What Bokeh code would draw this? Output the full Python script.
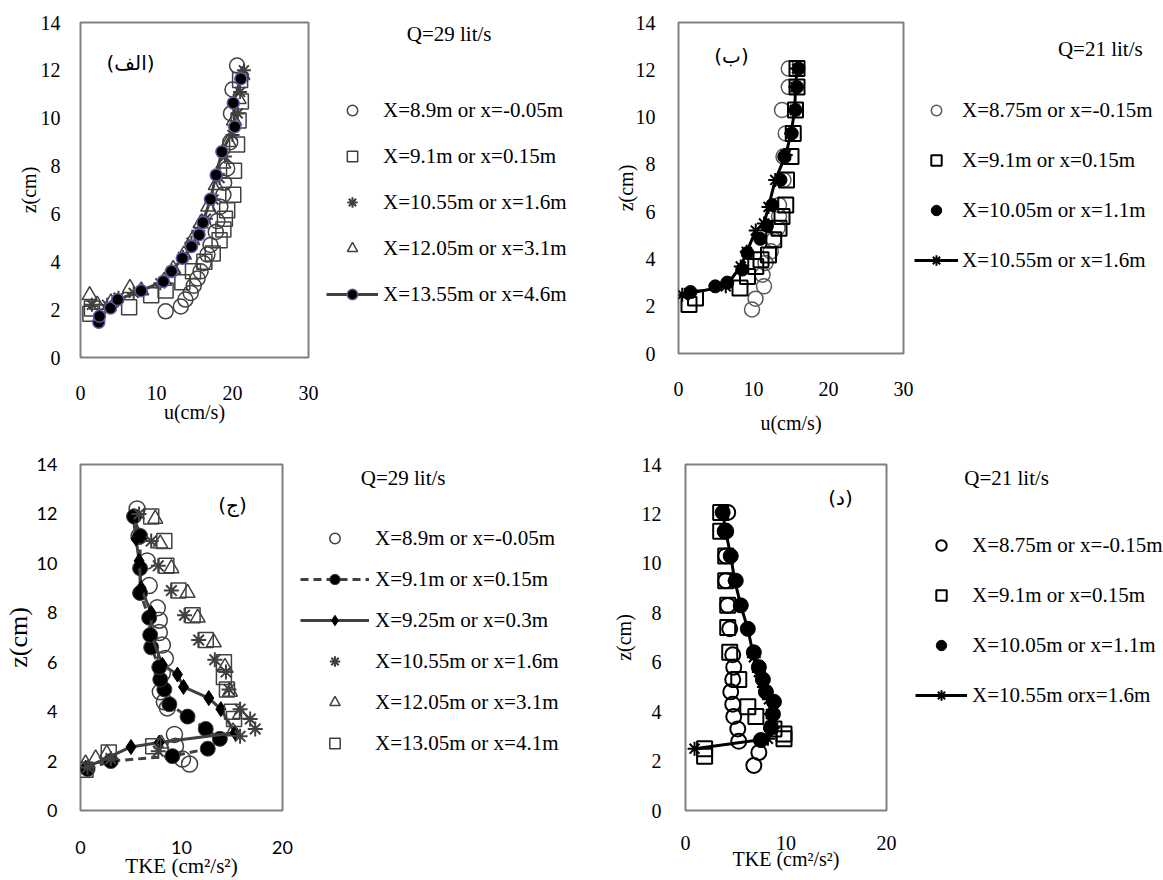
from bokeh.plotting import figure
from bokeh.models import Range1d, FixedTicker, Legend, LegendItem, Label
from bokeh.layouts import column, row
from bokeh.embed import file_html
from bokeh.resources import INLINE

SERIF = "Liberation Serif"

# ---------------- data ----------------
# Panel (الف): u profiles, Q = 29 lit/s
a_title = "Q=29 lit/s"
a_labels = ["X=8.9m or x=-0.05m", "X=9.1m or x=0.15m", "X=10.55m or x=1.6m",
            "X=12.05m or x=3.1m", "X=13.55m or x=4.6m"]
a1_u = [11.2, 13.2, 13.8, 14.5, 14.9, 15.4, 15.8, 16.2, 16.7, 17.1, 17.8, 18.0, 18.4, 18.8, 18.9, 19.3, 19.7, 19.8, 20.0, 20.6]
a1_z = [1.93, 2.13, 2.42, 2.7, 3.0, 3.3, 3.6, 3.94, 4.3, 4.7, 5.25, 5.7, 6.3, 6.8, 7.3, 7.9, 9.0, 10.2, 11.2, 12.2]
a2_u = [1.3, 1.5, 6.4, 9.3, 11.2, 13.4, 14.8, 16.3, 17.4, 18.3, 18.8, 19.0, 19.3, 20.1, 20.2, 20.6, 20.8, 21.1, 21.0]
a2_z = [1.83, 2.05, 2.1, 2.6, 2.8, 3.15, 3.6, 4.0, 4.35, 4.9, 5.35, 5.8, 6.15, 6.8, 7.8, 8.9, 9.9, 10.7, 11.6]
a3_u = [1.5, 3.5, 5.0, 7.0, 10.5, 12.0, 13.5, 14.6, 15.5, 16.5, 17.5, 18.3, 19.0, 20.0, 20.7, 21.0, 21.5]
a3_z = [2.2, 2.2, 2.5, 2.7, 3.1, 3.6, 4.2, 4.8, 5.3, 5.8, 6.6, 7.5, 8.4, 9.3, 10.2, 11.1, 12.0]
a4_u = [1.2, 2.2, 4.0, 6.5, 8.0, 11.0, 12.2, 13.6, 14.7, 15.8, 16.8, 17.8, 18.8, 19.5, 20.2, 20.8, 21.3]
a4_z = [2.6, 2.2, 2.3, 2.9, 2.8, 3.2, 3.7, 4.3, 4.9, 5.6, 6.3, 7.2, 8.1, 9.0, 9.9, 10.8, 11.8]
a5_u = [2.4, 2.5, 3.95, 4.9, 7.98, 10.9, 11.97, 13.4, 14.6, 15.6, 16.1, 17.1, 17.85, 18.6, 20.3, 20.1, 21.1]
a5_z = [1.47, 1.72, 2.07, 2.42, 2.79, 3.18, 3.6, 4.15, 4.64, 5.13, 5.64, 6.61, 7.63, 8.6, 9.64, 10.64, 11.65]

# Panel (ب): u profiles, Q = 21 lit/s
b_title = "Q=21 lit/s"
b_labels = ["X=8.75m or x=-0.15m", "X=9.1m or x=0.15m", "X=10.05m or x=1.1m", "X=10.55m or x=1.6m"]
b1_u = [9.8, 10.27, 11.4, 11.2, 11.6, 12.3, 12.7, 13.2, 13.4, 13.4, 14.0, 14.0, 14.3, 13.8, 14.7, 14.7]
b1_z = [1.86, 2.32, 2.84, 3.33, 3.83, 4.32, 4.81, 5.3, 5.79, 6.28, 7.34, 8.33, 9.31, 10.3, 11.27, 12.05]
b2_u = [1.4, 2.27, 8.2, 9.2, 10.3, 11.0, 12.0, 12.7, 13.4, 13.8, 14.3, 14.4, 15.0, 15.3, 15.6, 15.8, 15.8]
b2_z = [2.07, 2.35, 2.77, 3.26, 3.68, 3.97, 4.17, 4.81, 5.3, 5.79, 6.28, 7.34, 8.33, 9.31, 10.3, 11.27, 12.05]
b3_u = [1.6, 4.9, 6.5, 8.5, 9.2, 10.9, 11.8, 12.5, 13.6, 14.1, 15.1, 15.6, 15.8, 16.0]
b3_z = [2.6, 2.84, 3.0, 3.55, 4.25, 4.85, 5.4, 6.28, 7.34, 8.33, 9.31, 10.3, 11.27, 12.05]
b4_u = [0.5, 1.4, 6.3, 8.3, 9.1, 10.3, 11.4, 12.0, 12.9, 14.3, 15.0, 15.5, 15.6, 15.8]
b4_z = [2.49, 2.55, 2.84, 3.68, 4.3, 5.2, 5.5, 6.2, 7.34, 8.4, 9.31, 10.3, 11.27, 12.05]

# Panel (ج): TKE profiles, Q = 29 lit/s
c_title = "Q=29 lit/s"
c_labels = ["X=8.9m or x=-0.05m", "X=9.1m or x=0.15m", "X=9.25m or x=0.3m",
            "X=10.55m or x=1.6m", "X=12.05m or x=3.1m", "X=13.05m or x=4.1m"]
c1_k = [5.6, 5.8, 6.6, 6.8, 7.6, 7.8, 7.8, 8.1, 8.4, 8.1, 7.9, 8.3, 8.6, 9.3, 9.4, 10.1, 10.8]
c1_z = [12.2, 11.1, 10.1, 9.1, 8.2, 7.7, 7.2, 6.7, 6.15, 5.55, 4.8, 4.4, 4.15, 3.08, 2.6, 2.08, 1.88]
c2_k = [0.7, 3.0, 9.1, 12.6, 13.8, 12.4, 10.6, 8.8, 8.3, 7.9, 7.8, 7.0, 6.9, 6.8, 5.9, 5.9, 5.9, 5.3]
c2_z = [1.68, 2.0, 2.2, 2.5, 2.9, 3.3, 3.8, 4.3, 4.9, 5.3, 5.8, 6.6, 7.1, 7.8, 8.8, 9.8, 11.1, 11.9]
c3_k = [0.5, 5.0, 7.8, 15.3, 13.9, 12.7, 10.2, 9.6, 8.1, 7.0, 7.0, 6.0, 5.8, 5.5, 5.2]
c3_z = [1.73, 2.57, 2.75, 3.15, 4.1, 4.55, 5.0, 5.5, 5.9, 7.1, 8.0, 9.0, 10.1, 11.0, 11.9]
c4_k = [0.7, 3.0, 7.7, 15.8, 17.3, 16.8, 15.8, 14.7, 14.4, 13.3, 11.7, 10.3, 9.0, 7.7, 7.0, 5.8]
c4_z = [1.75, 2.1, 2.4, 3.0, 3.3, 3.7, 4.1, 4.9, 5.6, 6.1, 6.9, 7.9, 8.9, 9.9, 10.9, 12.0]
c5_k = [0.5, 1.5, 2.6, 8.0, 15.1, 15.8, 14.8, 14.3, 13.2, 11.6, 10.6, 9.0, 7.9, 7.4]
c5_z = [1.9, 2.1, 2.3, 2.7, 3.2, 3.9, 4.8, 5.8, 6.8, 7.8, 8.8, 9.8, 10.8, 11.8]
c6_k = [0.5, 2.8, 7.2, 15.2, 15.0, 14.5, 14.2, 14.2, 12.4, 11.1, 9.7, 8.5, 8.3, 7.0]
c6_z = [1.65, 2.35, 2.6, 3.7, 4.0, 4.9, 5.4, 6.0, 6.9, 7.9, 8.9, 9.9, 10.9, 11.9]

# Panel (د): TKE profiles, Q = 21 lit/s
d_title = "Q=21 lit/s"
d_labels = ["X=8.75m or x=-0.15m", "X=9.1m or x=0.15m", "X=10.05m or x=1.1m", "X=10.55m orx=1.6m"]
d1_k = [4.2, 4.0, 4.0, 4.0, 4.2, 4.4, 4.7, 4.8, 4.7, 4.5, 4.7, 4.8, 5.2, 5.3, 7.3, 6.8]
d1_z = [12.06, 11.3, 10.3, 9.3, 8.3, 7.35, 6.3, 5.8, 5.3, 4.8, 4.3, 3.8, 3.3, 2.8, 2.35, 1.82]
d2_k = [1.9, 1.9, 9.8, 9.8, 8.8, 7.0, 6.2, 5.3, 4.4, 4.2, 4.2, 4.0, 4.0, 3.5, 3.5]
d2_z = [2.2, 2.5, 2.9, 3.1, 3.3, 3.8, 4.2, 5.3, 6.4, 7.4, 8.3, 9.3, 10.3, 11.3, 12.06]
d3_k = [3.7, 3.9, 4.5, 5.0, 5.5, 6.2, 6.8, 7.3, 7.7, 8.0, 8.8, 8.7, 8.5, 7.5]
d3_z = [12.06, 11.3, 10.3, 9.3, 8.3, 7.35, 6.4, 5.8, 5.3, 4.8, 4.4, 3.9, 3.35, 2.85]
d4_k = [0.9, 8.2, 8.7, 8.5, 8.3, 7.8, 7.3, 6.8, 6.2, 5.5, 4.9, 4.5, 4.0, 3.7]
d4_z = [2.5, 2.9, 3.35, 3.9, 4.5, 5.0, 5.6, 6.2, 7.35, 8.3, 9.3, 10.3, 11.3, 12.06]

z_ticks = [0, 2, 4, 6, 8, 10, 12, 14]
u_ticks = [0, 10, 20, 30]
k_ticks = [0, 10, 20]


def make_fig(left, fw, right, top, fh, total_h, xmax, xticks, tick_font, tick_size,
             xlabel, ylabel, ylabel_size, xlabel_size, xstand, ystand, xlab_stand, ylab_stand):
    p = figure(title=None, frame_width=fw, frame_height=fh,
               min_border_left=left, min_border_right=right,
               min_border_top=top, min_border_bottom=total_h - top - fh,
               x_range=Range1d(0, xmax), y_range=Range1d(0, 14),
               output_backend="svg", toolbar_location=None,
               background_fill_color="white", border_fill_color="white")
    p.xaxis.ticker = FixedTicker(ticks=xticks)
    p.yaxis.ticker = FixedTicker(ticks=z_ticks)
    p.grid.visible = False
    p.axis.major_label_text_font = tick_font
    for ax in list(p.xaxis) + list(p.yaxis):
        ax.axis_line_color = None
        ax.major_tick_line_color = None
        ax.minor_tick_line_color = None
        ax.major_tick_out = 0
        ax.major_tick_in = 0
        ax.major_label_text_font = tick_font
        ax.major_label_text_font_size = tick_size
        ax.major_label_text_color = "black"
        ax.axis_label_text_font = SERIF
        ax.axis_label_text_font_style = "normal"
        ax.axis_label_text_color = "black"
    p.xaxis.major_label_standoff = xstand
    p.yaxis.major_label_standoff = ystand
    p.xaxis.axis_label = xlabel
    p.yaxis.axis_label = ylabel
    p.xaxis.axis_label_text_font_size = xlabel_size
    p.yaxis.axis_label_text_font_size = ylabel_size
    p.xaxis.axis_label_standoff = xlab_stand
    p.yaxis.axis_label_standoff = ylab_stand
    p.outline_line_color = "#808080"
    p.outline_line_width = 2
    return p


def letter(p, x, y, text):
    p.add_layout(Label(x=x, y=y, x_units="screen", y_units="screen", text=text,
                       text_font="DejaVu Sans", text_font_size="20px", text_color="black",
                       text_align="center", text_baseline="middle"))


def blank(w, h):
    f = figure(title=None, width=w, height=h, x_range=Range1d(0, w), y_range=Range1d(0, h),
               min_border=0, x_axis_location=None, y_axis_location=None,
               outline_line_color=None, toolbar_location=None, output_backend="svg",
               background_fill_color="white", border_fill_color="white")
    f.grid.visible = False
    return f


def legend_col(w, h, qh, title, tx, ty, specs, labels, lleft, ltop, spacing, glyph_w, standoff, size="21px"):
    # text "Q=..." in an upper strip
    q = blank(w, qh)
    q.add_layout(Label(x=tx, y=ty, text=title, text_font=SERIF, text_font_size="21px",
                       text_color="black", text_align="left", text_baseline="middle"))
    # legend strip; its frame starts where the legend starts
    f = figure(title=None, width=w, height=h - qh, min_border_left=lleft, min_border_top=ltop,
               min_border_right=0, min_border_bottom=0,
               x_range=Range1d(0, 1), y_range=Range1d(0, 1),
               x_axis_location=None, y_axis_location=None,
               outline_line_color=None, toolbar_location=None, output_backend="svg",
               background_fill_color="white", border_fill_color="white")
    f.grid.visible = False
    items = []
    for spec, lab in zip(specs, labels):
        rs = []
        if spec.get("line"):
            rs.append(f.line([-10, -9], [-10, -10], **spec["line"]))
        if spec.get("marker"):
            rs.append(f.scatter([-10], [-10], **spec["marker"]))
        items.append(LegendItem(label=lab, renderers=rs))
    lg = Legend(items=items, location="top_left", orientation="vertical",
                glyph_width=glyph_w, glyph_height=26, label_height=26,
                spacing=spacing, padding=0, margin=0, label_standoff=standoff,
                label_text_font=SERIF, label_text_font_size=size, label_text_color="black",
                border_line_color=None, background_fill_alpha=0)
    f.add_layout(lg, "center")
    return column(q, f, spacing=0)


g1 = "#404040"
g2 = "#595959"

TOP_H = 444
BOT_H = 435

# ---------------- panel (الف) ----------------
sty_a = [
    dict(marker=dict(marker="circle", size=15, fill_color=None, line_color=g1, line_width=1.5)),
    dict(marker=dict(marker="square", size=15, fill_color=None, line_color=g1, line_width=1.5)),
    dict(marker=dict(marker="asterisk", size=14, line_color=g1, line_width=2)),
    dict(marker=dict(marker="triangle", size=15, fill_color=None, line_color=g1, line_width=1.5)),
    dict(line=dict(line_color=g1, line_width=3),
         marker=dict(marker="circle", size=12, fill_color="black", line_color="#6a55a0", line_width=1.5)),
]
p1 = make_fig(80, 228, 12, 22, 335, TOP_H, 30, u_ticks, SERIF, "20px",
              "u(cm/s)", "z(cm)", "20px", "20px", 28, 20, -2, -2)
for (xs, ys), st in zip([(a1_u, a1_z), (a2_u, a2_z), (a3_u, a3_z), (a4_u, a4_z), (a5_u, a5_z)], sty_a):
    if "line" in st:
        p1.line(xs, ys, **st["line"])
    p1.scatter(xs, ys, **st["marker"])
letter(p1, 50, 295, "(الف)")
leg1 = legend_col(280, TOP_H, 90, a_title, 82, 57, sty_a, a_labels, 6, 7, 20, 52, 5)

# ---------------- panel (ب) ----------------
sty_b = [
    dict(marker=dict(marker="circle", size=15, fill_color=None, line_color=g2, line_width=1.5)),
    dict(marker=dict(marker="square", size=15, fill_color=None, line_color="black", line_width=2)),
    dict(marker=dict(marker="circle", size=13, fill_color="black", line_color="black")),
    dict(line=dict(line_color="black", line_width=3),
         marker=dict(marker="asterisk", size=14, line_color="black", line_width=2)),
]
p2 = make_fig(78, 225, 10, 22, 331, TOP_H, 30, u_ticks, SERIF, "20px",
              "u(cm/s)", "z(cm)", "20px", "20px", 28, 23, 13, -4)
for (xs, ys), st in zip([(b1_u, b1_z), (b2_u, b2_z), (b3_u, b3_z), (b4_u, b4_z)], sty_b):
    if "line" in st:
        p2.line(xs, ys, **st["line"])
    p2.scatter(xs, ys, **st["marker"])
letter(p2, 53, 298, "(ب)")
leg2 = legend_col(250, TOP_H, 90, b_title, 144, 42, sty_b, b_labels, 1, 7, 24, 44, 4, size="21px")

# ---------------- panel (ج) ----------------
sty_c = [
    dict(marker=dict(marker="circle", size=16, fill_color=None, line_color=g1, line_width=1.5)),
    dict(line=dict(line_color=g1, line_width=3, line_dash="8 5"),
         marker=dict(marker="circle", size=15, fill_color="black", line_color=g1, line_width=1)),
    dict(line=dict(line_color=g1, line_width=3),
         marker=dict(marker="diamond", size=15, fill_color="black", line_color="black")),
    dict(marker=dict(marker="asterisk", size=15, line_color=g1, line_width=2)),
    dict(marker=dict(marker="triangle", size=15, fill_color=None, line_color=g1, line_width=1.5)),
    dict(marker=dict(marker="square", size=15, fill_color=None, line_color=g1, line_width=1.5)),
]
p3 = make_fig(73, 202, 14, 13, 346, BOT_H, 20, k_ticks, "Lato", "18px",
              "TKE (cm²/s²)", "z(cm)", "26px", "21px", 30, 23, -3, 1)
for (xs, ys), st in zip([(c1_k, c1_z), (c2_k, c2_z), (c3_k, c3_z), (c4_k, c4_z), (c5_k, c5_z), (c6_k, c6_z)], sty_c):
    if "line" in st:
        p3.line(xs, ys, **st["line"])
    p3.scatter(xs, ys, **st["marker"])
letter(p3, 152, 306, "(ج)")
leg3 = legend_col(311, BOT_H, 60, c_title, 61, 27, sty_c, c_labels, 4, 21, 15, 69, 6)

# ---------------- panel (د) ----------------
sty_d = [
    dict(marker=dict(marker="circle", size=15, fill_color=None, line_color="black", line_width=2)),
    dict(marker=dict(marker="square", size=15, fill_color=None, line_color="black", line_width=2)),
    dict(marker=dict(marker="circle", size=15, fill_color="black", line_color="black")),
    dict(line=dict(line_color="black", line_width=3),
         marker=dict(marker="asterisk", size=14, line_color="black", line_width=2)),
]
p4 = make_fig(78, 201, 12, 20, 346, BOT_H, 20, k_ticks, SERIF, "20px",
              "TKE (cm²/s²)", "z(cm)", "20px", "20px", 25, 24, -5, 4)
for (xs, ys), st in zip([(d1_k, d1_z), (d2_k, d2_z), (d3_k, d3_z), (d4_k, d4_z)], sty_d):
    if "line" in st:
        p4.line(xs, ys, **st["line"])
    p4.scatter(xs, ys, **st["marker"])
letter(p4, 155, 313, "(د)")
leg4 = legend_col(272, BOT_H, 60, d_title, 52, 27, sty_d, d_labels, 17, 28, 24, 52, 5)

layout = column(row(p1, leg1, p2, leg2, spacing=0), row(p3, leg3, p4, leg4, spacing=0), spacing=0)
open("out.html", "w").write(file_html(layout, INLINE))
